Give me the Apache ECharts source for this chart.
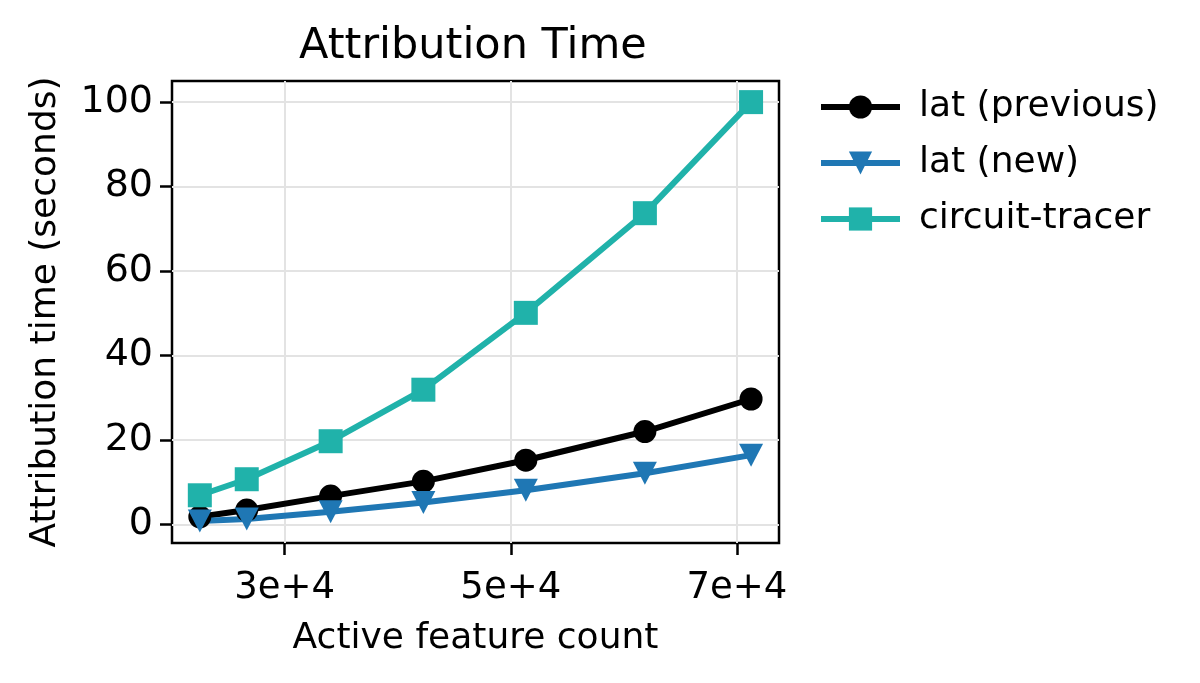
<!DOCTYPE html>
<html>
<head>
    <meta charset="utf-8"/>
    <title>Attribution Time</title>
    <script src="https://cdn.jsdelivr.net/npm/echarts@6/dist/echarts.min.js"></script>
    <style>
        html, body {
            margin: 0;
            padding: 0;
            background: #fff;
        }
        #chart {
            width: 1200px;
            height: 683px;
        }
    </style>
</head>
<body>
<div id="chart"></div>
<script>
    // data
    var featureCounts = [22500, 26650, 34070, 42270, 51330, 61860, 71250];
    var latPrevious = [1.8, 3.4, 6.7, 10.2, 15.2, 22.0, 29.7];
    var latNew = [0.8, 1.3, 3.0, 5.2, 8.1, 12.1, 16.4];
    var circuitTracer = [6.9, 10.7, 19.7, 31.9, 50.1, 73.7, 100];
    var xTicks = [30000, 50000, 70000];
    var yTicks = [0, 20, 40, 60, 80, 100];

    var font = 'DejaVu Sans';

    function pairs(xs, ys) {
        return xs.map(function (x, i) { return [x, ys[i]]; });
    }

    var chart = echarts.init(document.getElementById('chart'));

    var option = {
        backgroundColor: '#fff',
        animation: false,
        title: {
            text: 'Attribution Time',
            left: 294,
            top: 20,
            textStyle: {fontSize: 43, fontWeight: 'normal', color: '#000', fontFamily: font}
        },
        legend: {
            orient: 'vertical',
            left: 813,
            top: 84,
            itemWidth: 79,
            itemHeight: 29,
            itemGap: 20,
            lineStyle: {width: 6},
            textStyle: {fontSize: 36, color: '#000', fontFamily: font, padding: [0, 0, 0, 14]},
            data: ['lat (previous)', 'lat (new)', 'circuit-tracer']
        },
        grid: {
            left: 172,
            right: 421,
            top: 81,
            bottom: 140,
            show: true,
            borderColor: '#000',
            borderWidth: 2.5,
            backgroundColor: 'transparent'
        },
        xAxis: {
            type: 'value',
            min: 20040,
            max: 73720,
            name: 'Active feature count',
            nameLocation: 'middle',
            nameGap: 78,
            nameTextStyle: {fontSize: 36, color: '#000', fontFamily: font},
            axisLine: {show: false, onZero: false},
            axisTick: {show: true, inside: false, length: 12, lineStyle: {color: '#000', width: 2.5}, customValues: xTicks},
            axisLabel: {
                customValues: xTicks,
                margin: 27,
                fontSize: 37,
                color: '#000',
                fontFamily: font,
                formatter: function (v) { return (v / 10000) + 'e+4'; }
            },
            splitLine: {show: true, lineStyle: {color: '#e3e3e3', width: 2}}
        },
        yAxis: {
            type: 'value',
            min: -4.4,
            max: 105,
            name: 'Attribution time (seconds)',
            nameLocation: 'middle',
            nameGap: 108,
            nameTextStyle: {fontSize: 36, color: '#000', fontFamily: font},
            axisLine: {show: false, onZero: false},
            axisTick: {show: true, inside: false, length: 12, lineStyle: {color: '#000', width: 2.5}, customValues: yTicks},
            axisLabel: {customValues: yTicks, margin: 19, fontSize: 38, color: '#000', fontFamily: font},
            splitLine: {show: true, lineStyle: {color: '#e3e3e3', width: 2}}
        },
        series: [
            {
                name: 'lat (previous)',
                type: 'line',
                data: pairs(featureCounts, latPrevious),
                symbol: 'circle',
                symbolSize: 23,
                lineStyle: {color: '#000', width: 6},
                itemStyle: {color: '#000'}
            },
            {
                name: 'lat (new)',
                type: 'line',
                data: pairs(featureCounts, latNew),
                symbol: 'triangle',
                symbolRotate: 180,
                symbolSize: [24, 23],
                lineStyle: {color: '#1f77b4', width: 6},
                itemStyle: {color: '#1f77b4'}
            },
            {
                name: 'circuit-tracer',
                type: 'line',
                data: pairs(featureCounts, circuitTracer),
                symbol: 'rect',
                symbolSize: 24,
                lineStyle: {color: '#20b2aa', width: 6},
                itemStyle: {color: '#20b2aa'}
            }
        ]
    };

    chart.setOption(option);

    window.onresize = function () {
        chart.resize();
    };
</script>
</body>
</html>
